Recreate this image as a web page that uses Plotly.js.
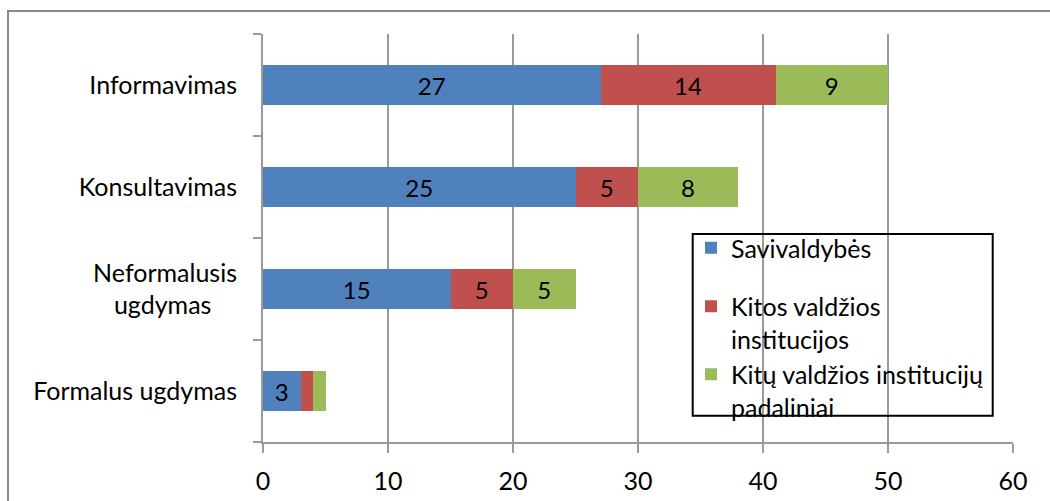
<!DOCTYPE html>
<html>
<head>
<meta charset="utf-8">
<script src="https://cdn.plot.ly/plotly-3.0.1.min.js"></script>
<style>
  html, body { margin: 0; padding: 0; background: #fff; }
  #wrap { position: relative; width: 1050px; height: 501px; overflow: hidden; }
  #chart { position: absolute; left: 0; top: 0; width: 1050px; height: 501px; }
  #frame { position: absolute; left: 7px; top: 10px; width: 1100px; height: 600px;
           border: 2px solid #8a8a8a; pointer-events: none; z-index: 5; }
</style>
</head>
<body>
<div id="wrap">
  <div id="chart"></div>
  <div id="frame"></div>
</div>
<script>
// Categories (bottom to top)
const categories = ['Formalus ugdymas', 'Neformalusis ugdymas', 'Konsultavimas', 'Informavimas'];
const categoryLabels = ['Formalus ugdymas', 'Neformalusis<br>ugdymas&nbsp;&nbsp;&nbsp;&nbsp;', 'Konsultavimas', 'Informavimas'];

// Series
const seriesNames = ['Savivaldybės', 'Kitos valdžios<br>institucijos', 'Kitų valdžios institucijų<br>padaliniai'];
const savivaldybes = [3, 15, 25, 27];
const kitosInstitucijos = [1, 5, 5, 14];
const kituPadaliniai = [1, 5, 8, 9];
// Data labels shown in the picture ('' = not shown)
const savivaldybesLabels = ['3', '15', '25', '27'];
const kitosLabels = ['', '5', '5', '14'];
const padaliniaiLabels = ['', '5', '8', '9'];

const xTicks = [0, 10, 20, 30, 40, 50, 60];

const colors = ['#4F81BD', '#C0504D', '#9BBB59'];
const FONT = 'Lato, "Liberation Sans", sans-serif';
const FS = 25;

function mk(name, vals, labels, color, group) {
  return {
    type: 'bar', orientation: 'h', name: name, legendgroup: group,
    x: vals, y: categories, text: labels,
    textposition: 'inside', insidetextanchor: 'middle', textangle: 0,
    insidetextfont: { family: FONT, size: 24, color: '#000' },
    marker: { color: color, line: { width: 0 } },
    hoverinfo: 'x+name'
  };
}

const traces = [
  mk(seriesNames[0], savivaldybes, savivaldybesLabels, colors[0], 'g1'),
  mk(seriesNames[1], kitosInstitucijos, kitosLabels, colors[1], 'g2'),
  mk(seriesNames[2], kituPadaliniai, padaliniaiLabels, colors[2], 'g2')
];

const L = 263, R = 1013, T = 34, B = 442;
function px2x(p) { return (p - L) / (R - L); }
function px2y(p) { return (B - p) / (B - T); }

const layout = {
  width: 1050, height: 501,
  margin: { l: L, r: 1050 - R, t: T, b: 501 - B, pad: 0 },
  paper_bgcolor: '#fff', plot_bgcolor: '#fff',
  font: { family: FONT, size: FS, color: '#000' },
  barmode: 'stack', bargap: 0.6,
  showlegend: true,
  legend: {
    x: px2x(691), y: px2y(225), xanchor: 'left', yanchor: 'top',
    bgcolor: 'rgba(0,0,0,0)', borderwidth: 0,
    traceorder: 'grouped', valign: 'top',
    font: { family: FONT, size: FS, color: '#000' },
    itemwidth: 30, tracegroupgap: 23
  },
  xaxis: {
    range: [0, 60], tickvals: xTicks, ticktext: xTicks.map(String),
    showgrid: true, gridcolor: '#9a9a9a', gridwidth: 2,
    zeroline: false, showline: true, linecolor: '#9a9a9a', linewidth: 2,
    ticks: 'outside', ticklen: 9, tickwidth: 2, tickcolor: '#9a9a9a',
    ticklabelstandoff: 7,
    tickfont: { family: FONT, size: FS, color: '#000' },
    fixedrange: true
  },
  yaxis: {
    type: 'category', categoryorder: 'array', categoryarray: categories,
    tickvals: categories, ticktext: categoryLabels,
    showgrid: false, zeroline: false, showline: true, linecolor: '#9a9a9a', linewidth: 2,
    ticks: 'outside', tickson: 'boundaries', ticklen: 8, tickwidth: 2, tickcolor: '#9a9a9a',
    ticklabelstandoff: 19,
    tickfont: { family: FONT, size: FS, color: '#000' },
    fixedrange: true
  },
  shapes: [{
    type: 'rect', xref: 'paper', yref: 'paper',
    x0: px2x(692.7), x1: px2x(992.7), y0: px2y(415.7), y1: px2y(234),
    line: { color: '#000', width: 2 }, fillcolor: 'rgba(0,0,0,0)', layer: 'above'
  }]
};

Plotly.newPlot('chart', traces, layout, { displayModeBar: false, staticPlot: true });
</script>
</body>
</html>
